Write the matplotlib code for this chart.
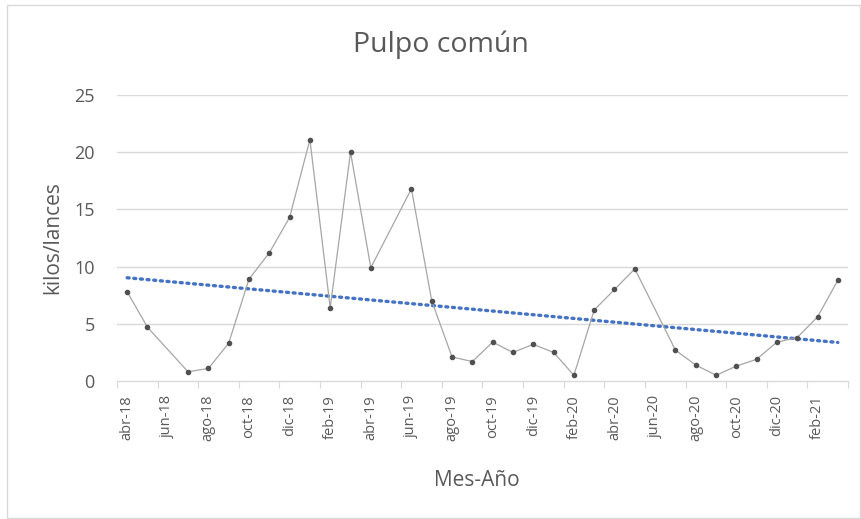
import numpy as np
import pandas as pd
import matplotlib
matplotlib.use("Agg")
import matplotlib.pyplot as plt
from matplotlib.patches import Rectangle

# Datos mensuales (faltan jun-18, may-19 y jun-20)
fechas = ["2018-04", "2018-05", "2018-07", "2018-08", "2018-09", "2018-10",
          "2018-11", "2018-12", "2019-01", "2019-02", "2019-03", "2019-04",
          "2019-06", "2019-07", "2019-08", "2019-09", "2019-10", "2019-11",
          "2019-12", "2020-01", "2020-02", "2020-03", "2020-04", "2020-05",
          "2020-07", "2020-08", "2020-09", "2020-10", "2020-11", "2020-12",
          "2021-01", "2021-02", "2021-03"]
kilos_lance = [7.8, 4.7, 0.8, 1.1, 3.3, 8.9, 11.2, 14.3,
               21.1, 6.4, 20.0, 9.9, 16.8, 7.0, 2.1, 1.7, 3.4, 2.5, 3.2,
               2.5, 0.5, 6.2, 8.0, 9.8, 2.7, 1.4, 0.5, 1.3, 1.9, 3.4,
               3.8, 5.6, 8.8]
etiquetas = ["abr-18", "jun-18", "ago-18", "oct-18", "dic-18", "feb-19",
             "abr-19", "jun-19", "ago-19", "oct-19", "dic-19", "feb-20",
             "abr-20", "jun-20", "ago-20", "oct-20", "dic-20", "feb-21"]
yticks = [0, 5, 10, 15, 20, 25]

GRIS = "#595959"
plt.rcParams["font.family"] = ["Open Sans", "DejaVu Sans"]

# indice de mes desde abr-18
per = pd.PeriodIndex(fechas, freq="M")
x = np.array([(p - per[0]).n for p in per])
y = np.array(kilos_lance)
n_meses = x[-1] + 1

fig = plt.figure(figsize=(8.61, 5.19), dpi=100)
fig.patches.append(Rectangle((7/861, 1/519), 853/861, 513/519, transform=fig.transFigure,
                             fill=False, edgecolor="#D9D9D9", lw=1))
ax = fig.add_axes([117/861, 1 - 381/519, 731/861, 286/519])

for v in yticks[1:]:
    ax.axhline(v, color="#D9D9D9", lw=1, zorder=0)

ax.plot(x, y, color="#A6A6A6", lw=0.9, marker="o", ms=3.0,
        mfc="#505050", mec="#505050", zorder=3)

# linea de tendencia lineal
a, b = np.polyfit(x, y, 1)
xt = np.array([x[0], x[-1]])
ax.plot(xt, a*xt + b, color="#4472C4", lw=2.4, ls=(0, (0.6, 1.4)),
        dash_capstyle="round", zorder=2)

ax.set_xlim(-0.5, n_meses - 0.5)
ax.set_ylim(0, 25)
for s in ["top", "right", "left"]:
    ax.spines[s].set_visible(False)
ax.spines["bottom"].set_color("#D9D9D9")
ax.spines["bottom"].set_linewidth(1)

# marcas en los bordes cada 2 meses, etiquetas centradas en el mes
ax.set_xticks(np.arange(-0.5, n_meses, 2))
ax.set_xticklabels([])
ax.tick_params(axis="x", which="major", length=5, color="#D9D9D9", direction="out")
ax.set_xticks(np.arange(0, 2*len(etiquetas), 2), minor=True)
ax.set_xticklabels(etiquetas, minor=True, rotation=90, color=GRIS, fontsize=10.5)
ax.tick_params(axis="x", which="minor", length=0, pad=10)

ax.set_yticks(yticks)
ax.set_yticklabels([str(v) for v in yticks], color=GRIS, fontsize=13)
ax.tick_params(axis="y", length=0, pad=16)

ax.set_ylabel("kilos/lances", color=GRIS, fontsize=15)
ax.yaxis.set_label_coords((63 - 117)/731, 0.5)
ax.set_xlabel("Mes-Año", color=GRIS, fontsize=15)
ax.xaxis.set_label_coords((477 - 117)/731, -(480 - 381)/286)
ax.xaxis.label.set_va("center")

fig.text(441/861, 1 - 45/519, "Pulpo común", ha="center", va="center",
         color=GRIS, fontsize=20.5)

fig.savefig("out.png", dpi=100)
